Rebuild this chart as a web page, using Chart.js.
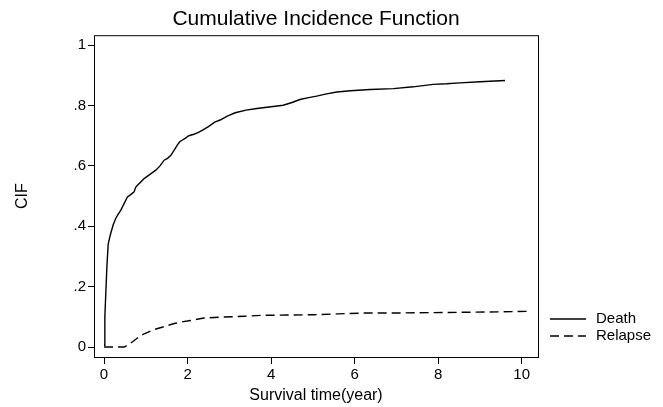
<!DOCTYPE html>
<html>
<head>
<meta charset="utf-8">
<script src="https://cdn.jsdelivr.net/npm/chart.js@4.4.0/dist/chart.umd.min.js"></script>
<style>
  body { margin: 0; background: #fff; }
  canvas { display: block; }
</style>
</head>
<body>
<canvas id="cif" width="663" height="407"></canvas>
<script>
// values
var deathX = [0, 0.02, 0.04, 0.07, 0.1, 0.13, 0.16, 0.22, 0.28, 0.34, 0.4, 0.48, 0.56, 0.64, 0.72, 0.76, 0.8, 0.88, 0.96, 1.1, 1.24, 1.34, 1.44, 1.52, 1.6, 1.68, 1.75, 1.81, 1.87, 1.95, 2.03, 2.15, 2.25, 2.35, 2.5, 2.65, 2.78, 2.95, 3.14, 3.4, 3.66, 3.95, 4.29, 4.5, 4.69, 4.9, 5.09, 5.3, 5.57, 5.9, 6.37, 6.93, 7.4, 7.88, 8.2, 8.52, 9.0, 9.6];
var deathY = [0.006, 0.1, 0.17, 0.27, 0.34, 0.36, 0.376, 0.405, 0.426, 0.44, 0.453, 0.475, 0.497, 0.505, 0.514, 0.53, 0.536, 0.547, 0.558, 0.572, 0.586, 0.6, 0.619, 0.625, 0.635, 0.652, 0.668, 0.68, 0.685, 0.692, 0.7, 0.705, 0.71, 0.718, 0.73, 0.745, 0.752, 0.765, 0.776, 0.785, 0.79, 0.795, 0.801, 0.81, 0.82, 0.826, 0.831, 0.838, 0.845, 0.849, 0.853, 0.856, 0.862, 0.87, 0.872, 0.875, 0.879, 0.883];

var relapseX = [0, 0.48, 0.56, 0.64, 0.8, 0.96, 1.2, 1.45, 1.68, 1.9, 2.07, 2.39, 2.8, 3.35, 3.75, 4.4, 5.03, 5.6, 6.29, 7.1, 7.88, 8.5, 9.16, 10.12];
var relapseY = [0, 0, 0.006, 0.013, 0.03, 0.044, 0.058, 0.068, 0.078, 0.084, 0.088, 0.096, 0.099, 0.102, 0.105, 0.106, 0.107, 0.11, 0.113, 0.113, 0.114, 0.115, 0.116, 0.118];

var xTicks = [0, 2, 4, 6, 8, 10];
var yTicks = [0, 0.2, 0.4, 0.6, 0.8, 1];
var yTickLabels = ["0", ".2", ".4", ".6", ".8", "1"];
var seriesNames = ["Death", "Relapse"];

var FONT = "'Liberation Sans', Arial, sans-serif";

function toPoints(xs, ys) {
    return xs.map(function (x, i) { return { x: x, y: ys[i] }; });
}

// plot box + legend drawn like stata does it
var boxAndLegend = {
    id: "boxAndLegend",
    afterDraw: function (chart) {
        var ctx = chart.ctx;
        var a = chart.chartArea;
        ctx.save();
        ctx.strokeStyle = "#000";
        ctx.lineWidth = 1;
        ctx.strokeRect(a.left + 0.5, a.top + 0.5, a.right - a.left, a.bottom - a.top);

        var rows = [319, 336];
        chart.data.datasets.forEach(function (ds, i) {
            var y = rows[i];
            ctx.beginPath();
            ctx.lineWidth = ds.borderWidth;
            ctx.setLineDash(ds.borderDash || []);
            ctx.moveTo(550, y);
            ctx.lineTo(586, y);
            ctx.stroke();
            ctx.setLineDash([]);
            ctx.fillStyle = "#000";
            ctx.font = "15px " + FONT;
            ctx.textBaseline = "middle";
            ctx.textAlign = "left";
            ctx.fillText(ds.label, 596, y);
        });
        ctx.restore();
    }
};

var ctx = document.getElementById("cif");
var chart = new Chart(ctx, {
    type: "line",
    data: {
        datasets: [
            {
                label: seriesNames[0],
                data: toPoints(deathX, deathY),
                borderColor: "#000",
                borderWidth: 1.4,
                pointRadius: 0,
                tension: 0,
                fill: false
            },
            {
                label: seriesNames[1],
                data: toPoints(relapseX, relapseY),
                borderColor: "#000",
                borderWidth: 1.4,
                borderDash: [9, 5],
                pointRadius: 0,
                tension: 0,
                fill: false
            }
        ]
    },
    options: {
        responsive: false,
        animation: false,
        devicePixelRatio: 1,
        layout: { padding: { left: 0, right: 125, top: 0, bottom: 0 } },
        plugins: {
            legend: { display: false },
            tooltip: { enabled: false },
            title: {
                display: true,
                text: "Cumulative Incidence Function",
                fullSize: false,
                color: "#000",
                font: { family: FONT, size: 21, weight: "normal" },
                padding: { top: 7, bottom: 3 }
            }
        },
        scales: {
            x: {
                type: "linear",
                min: -0.24,
                max: 10.39,
                afterBuildTicks: function (axis) {
                    axis.ticks = xTicks.map(function (v) { return { value: v }; });
                },
                afterFit: function (axis) { axis.height = 50; },
                grid: { drawOnChartArea: false, drawTicks: true, tickLength: 7, color: "#000" },
                border: { display: false },
                ticks: {
                    color: "#000",
                    font: { family: FONT, size: 15 },
                    padding: 2,
                    maxRotation: 0,
                    callback: function (v) { return String(v); }
                },
                title: {
                    display: true,
                    text: "Survival time(year)",
                    color: "#000",
                    font: { family: FONT, size: 16 },
                    padding: { top: 0, bottom: 2 }
                }
            },
            y: {
                type: "linear",
                min: -0.033,
                max: 1.033,
                afterBuildTicks: function (axis) {
                    axis.ticks = yTicks.map(function (v) { return { value: v }; });
                },
                afterFit: function (axis) { axis.width = 94; },
                grid: { drawOnChartArea: false, drawTicks: true, tickLength: 6, color: "#000" },
                border: { display: false },
                ticks: {
                    color: "#000",
                    font: { family: FONT, size: 15 },
                    padding: 2,
                    callback: function (v, i) { return yTickLabels[i]; }
                },
                title: {
                    display: true,
                    text: "CIF",
                    color: "#000",
                    font: { family: FONT, size: 16 },
                    padding: { top: 13, bottom: 0 }
                }
            }
        }
    },
    plugins: [boxAndLegend]
});
</script>
</body>
</html>
